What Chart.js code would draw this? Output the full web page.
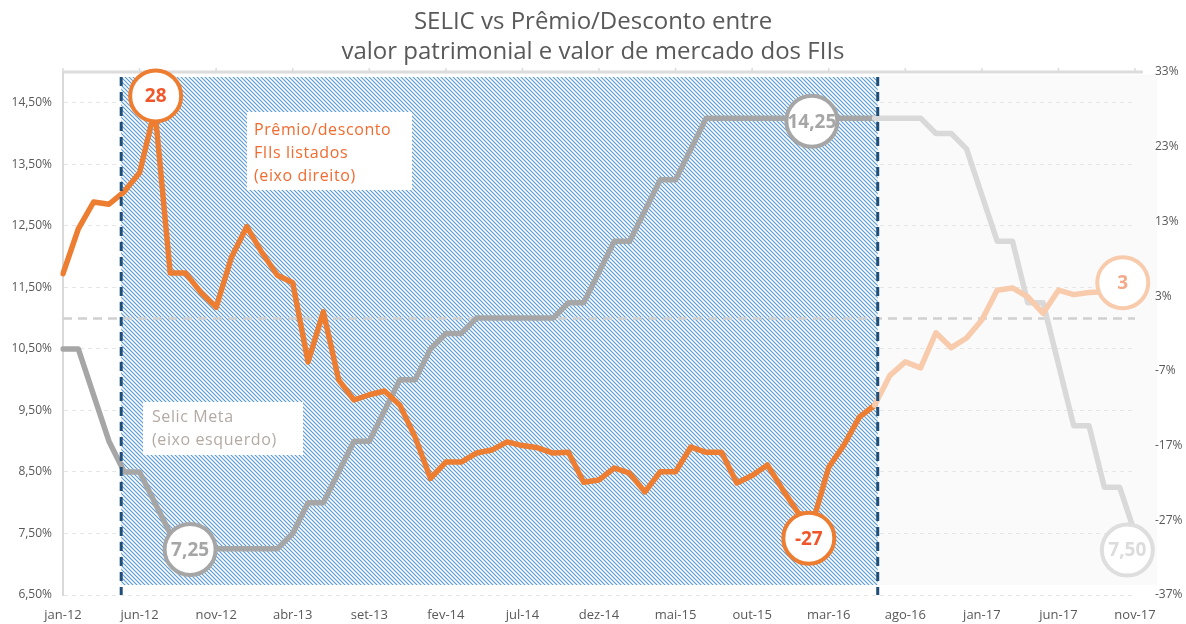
<!DOCTYPE html>
<html>
<head>
<meta charset="utf-8">
<script src="https://cdn.jsdelivr.net/npm/chart.js@4"></script>
<style>
  html, body { margin: 0; padding: 0; background: #fff; }
  #wrap { width: 1186px; height: 624px; }
</style>
</head>
<body>
<div id="wrap"><canvas id="fiiChart" width="1186" height="624"></canvas></div>
<script>
// Meses (categorias do eixo x)
const months = [
  "jan-12","fev-12","mar-12","abr-12","mai-12","jun-12","jul-12","ago-12","set-12","out-12","nov-12","dez-12",
  "jan-13","fev-13","mar-13","abr-13","mai-13","jun-13","jul-13","ago-13","set-13","out-13","nov-13","dez-13",
  "jan-14","fev-14","mar-14","abr-14","mai-14","jun-14","jul-14","ago-14","set-14","out-14","nov-14","dez-14",
  "jan-15","fev-15","mar-15","abr-15","mai-15","jun-15","jul-15","ago-15","set-15","out-15","nov-15","dez-15",
  "jan-16","fev-16","mar-16","abr-16","mai-16","jun-16","jul-16","ago-16","set-16","out-16","nov-16","dez-16",
  "jan-17","fev-17","mar-17","abr-17","mai-17","jun-17","jul-17","ago-17","set-17","out-17","nov-17"
];

// Selic meta (% a.a., eixo esquerdo)
const selic = [
  10.5, 10.5, 9.75, 9.0, 8.5, 8.5, 8.0, 7.5, 7.5, 7.25, 7.25, 7.25,
  7.25, 7.25, 7.25, 7.5, 8.0, 8.0, 8.5, 9.0, 9.0, 9.5, 10.0, 10.0,
  10.5, 10.75, 10.75, 11.0, 11.0, 11.0, 11.0, 11.0, 11.0, 11.25, 11.25, 11.75,
  12.25, 12.25, 12.75, 13.25, 13.25, 13.75, 14.25, 14.25, 14.25, 14.25, 14.25, 14.25,
  14.25, 14.25, 14.25, 14.25, 14.25, 14.25, 14.25, 14.25, 14.25, 14.0, 14.0, 13.75,
  13.0, 12.25, 12.25, 11.25, 11.25, 10.25, 9.25, 9.25, 8.25, 8.25, 7.5
];

// Prêmio/desconto dos FIIs listados (%, eixo direito)
const premio = [
  6, 12, 15.6, 15.3, 17, 19.5, 28, 6.1, 6.1, 3.5, 1.5, 8.2,
  12.3, 8.8, 5.8, 4.8, -5.8, 0.9, -8.2, -10.9, -10.2, -9.7, -11.6, -15.9,
  -21.4, -19.2, -19.2, -18, -17.6, -16.5, -17, -17.3, -18, -17.9, -21.9, -21.6,
  -20, -20.7, -23.2, -20.5, -20.5, -17.2, -17.9, -17.9, -22, -21, -19.6, -22.9,
  -26, -27, -19.9, -16.9, -13.2, -11.6, -7.6, -5.8, -6.6, -1.9, -3.9, -2.6,
  -0.2, 3.8, 4.1, 2.9, 0.7, 3.8, 3.2, 3.5, 3.6, 3, 3
];

// Ticks dos eixos
const leftTicks = [6.5, 7.5, 8.5, 9.5, 10.5, 11.5, 12.5, 13.5, 14.5];
const rightTicks = [-37, -27, -17, -7, 3, 13, 23, 33];

// Período destacado (índices fracionários dos meses) e início da parte esmaecida
const shadeFrom = 3.8;
const shadeTo = 53.2;
const fadeFrom = 53;

// Rótulos em círculo: texto, posição em dados (índice, valor, eixo)
const bubbles = [
  { text: "28", i: 6.05, v: 29.8, axis: "y1", kind: "orange" },
  { text: "-27", i: 48.7, v: -29.4, axis: "y1", kind: "orange" },
  { text: "3", i: 69.2, v: 4.8, axis: "y1", kind: "orangeFaded" },
  { text: "7,25", i: 8.3, v: 7.24, axis: "y", kind: "grey" },
  { text: "14,25", i: 48.9, v: 14.2, axis: "y", kind: "grey" },
  { text: "7,50", i: 69.5, v: 7.23, axis: "y", kind: "greyFaded" }
];

const ORANGE = "#ed7d31";
const ORANGE_FADED = "#f8cbad";
const GREY = "#a6a6a6";
const GREY_FADED = "#d9d9d9";
const FONT = "'Open Sans', Roboto, sans-serif";

function makeHatch(ctx) {
  const c = document.createElement("canvas");
  c.width = 4; c.height = 4;
  const g = c.getContext("2d");
  g.fillStyle = "#ffffff";
  g.fillRect(0, 0, 4, 4);
  g.strokeStyle = "#5b9bd5";
  g.lineWidth = 1.2;
  g.beginPath();
  g.moveTo(-1, -1); g.lineTo(5, 5);
  g.moveTo(-1, 3); g.lineTo(1, 5);
  g.moveTo(3, -1); g.lineTo(5, 1);
  g.stroke();
  return ctx.createPattern(c, "repeat");
}

const overlay = {
  id: "overlay",
  beforeDraw(chart) {
    const { ctx, chartArea: a, scales: { x } } = chart;
    ctx.save();
    ctx.fillStyle = "#ffffff";
    ctx.fillRect(0, 0, chart.width, chart.height);
    // área esmaecida à direita
    const xf = x.getPixelForValue(shadeTo);
    ctx.fillStyle = "#fafafa";
    ctx.fillRect(xf, a.top + 3, a.right + 22 - xf, a.bottom - a.top - 13);
    ctx.restore();
  },
  beforeDatasetsDraw(chart) {
    const { ctx, chartArea: a, scales: { x, y1 } } = chart;
    const x0 = x.getPixelForValue(shadeFrom);
    const x1 = x.getPixelForValue(shadeTo);
    ctx.save();
    ctx.fillStyle = makeHatch(ctx);
    ctx.fillRect(x0, a.top + 5, x1 - x0, a.bottom - a.top - 15);
    // linha tracejada do zero (eixo direito)
    const y0 = y1.getPixelForValue(0);
    ctx.strokeStyle = "#d0d0d0";
    ctx.lineWidth = 2.5;
    ctx.setLineDash([9, 6]);
    ctx.beginPath();
    ctx.moveTo(a.left, y0);
    ctx.lineTo(a.right, y0);
    ctx.stroke();
    // linha superior com marcas
    ctx.setLineDash([]);
    ctx.strokeStyle = "#dcdcdc";
    ctx.lineWidth = 3;
    ctx.beginPath();
    ctx.moveTo(a.left, a.top);
    ctx.lineTo(a.right + 8, a.top);
    ctx.stroke();
    ctx.lineWidth = 1.5;
    ctx.beginPath();
    for (let i = 0; i < months.length; i += 5) {
      const px = x.getPixelForValue(i);
      ctx.moveTo(px, a.top);
      ctx.lineTo(px, a.top - 4);
    }
    ctx.stroke();
    ctx.restore();
  },
  afterDatasetsDraw(chart) {
    const { ctx, chartArea: a, scales } = chart;
    const { x } = scales;
    ctx.save();
    // linhas verticais tracejadas
    ctx.strokeStyle = "#1f4e79";
    ctx.lineWidth = 3;
    ctx.setLineDash([9, 6]);
    [shadeFrom, shadeTo].forEach(v => {
      const px = x.getPixelForValue(v);
      ctx.beginPath();
      ctx.moveTo(px, a.top + 5);
      ctx.lineTo(px, a.bottom);
      ctx.stroke();
    });
    ctx.setLineDash([]);

    // caixas de legenda
    ctx.font = "16px " + FONT;
    ctx.letterSpacing = "0.6px";
    ctx.textBaseline = "middle";
    ctx.textAlign = "left";
    ctx.fillStyle = "#ffffff";
    ctx.fillRect(247, 112, 165, 78);
    ctx.fillStyle = "#f26b2f";
    ["Prêmio/desconto", "FIIs listados", "(eixo direito)"].forEach((t, k) => {
      ctx.fillText(t, 254, 130 + k * 23);
    });
    ctx.fillStyle = "#ffffff";
    ctx.fillRect(143, 402, 160, 53);
    ctx.fillStyle = "#b3aaa3";
    ["Selic Meta", "(eixo esquerdo)"].forEach((t, k) => {
      ctx.fillText(t, 152, 417 + k * 23);
    });

    // círculos com valores
    const styles = {
      orange: { stroke: ORANGE, text: "#f0562a" },
      orangeFaded: { stroke: ORANGE_FADED, text: "#f4a98a" },
      grey: { stroke: GREY, text: "#a6a6a6" },
      greyFaded: { stroke: "#dedede", text: "#dcdcdc" }
    };
    ctx.textAlign = "center";
    ctx.letterSpacing = "0px";
    ctx.font = "bold 19px " + FONT;
    bubbles.forEach(b => {
      const s = styles[b.kind];
      const cx = x.getPixelForValue(b.i);
      const cy = scales[b.axis].getPixelForValue(b.v);
      ctx.beginPath();
      ctx.arc(cx, cy, 25.5, 0, Math.PI * 2);
      ctx.fillStyle = "#ffffff";
      ctx.fill();
      ctx.lineWidth = 4;
      ctx.strokeStyle = s.stroke;
      ctx.stroke();
      ctx.fillStyle = s.text;
      ctx.fillText(b.text, cx, cy + 1);
    });
    ctx.restore();
  }
};

const ctx = document.getElementById("fiiChart").getContext("2d");

const fiiChart = new Chart(ctx, {
  type: "line",
  data: {
    labels: months,
    datasets: [
      {
        label: "Prêmio/desconto FIIs listados",
        data: premio,
        yAxisID: "y1",
        borderColor: ORANGE,
        borderWidth: 5.5,
        pointRadius: 0,
        tension: 0,
        borderJoinStyle: "round",
        borderCapStyle: "round",
        segment: {
          borderColor: c => (c.p0DataIndex >= fadeFrom ? ORANGE_FADED : ORANGE)
        }
      },
      {
        label: "Selic Meta",
        data: selic,
        yAxisID: "y",
        borderColor: GREY,
        borderWidth: 5.5,
        pointRadius: 0,
        tension: 0,
        borderJoinStyle: "round",
        borderCapStyle: "round",
        segment: {
          borderColor: c => (c.p0DataIndex >= fadeFrom ? GREY_FADED : GREY)
        }
      }
    ]
  },
  options: {
    responsive: false,
    animation: false,
    layout: { padding: 0 },
    plugins: {
      legend: { display: false },
      tooltip: { enabled: false },
      title: {
        display: true,
        text: ["SELIC vs Prêmio/Desconto entre", "valor patrimonial e valor de mercado dos FIIs"],
        color: "#595959",
        font: { family: FONT, size: 24, weight: "normal", lineHeight: 30 / 24 },
        padding: { top: 7, bottom: 5 }
      }
    },
    scales: {
      x: {
        offset: false,
        grid: { display: false },
        border: { display: false },
        ticks: {
          autoSkip: false,
          maxRotation: 0,
          padding: 4,
          color: "#595959",
          font: { family: FONT, size: 13 },
          callback: (v, i) => (i % 5 === 0 ? months[i] : "")
        },
        afterFit: s => { s.height = 29; }
      },
      y: {
        position: "left",
        min: 6.5,
        max: 15,
        afterBuildTicks: s => { s.ticks = leftTicks.map(v => ({ value: v })); },
        afterFit: s => { s.width = 63; },
        grid: { color: "#e6e6e6", drawTicks: false, lineWidth: 1 },
        border: { display: true, color: "#d9d9d9", width: 2, dash: [4, 4] },
        ticks: {
          padding: 11,
          color: "#595959",
          font: { family: FONT, size: 12 },
          callback: v => v.toFixed(2).replace(".", ",") + "%"
        }
      },
      y1: {
        position: "right",
        min: -37,
        max: 33,
        afterBuildTicks: s => { s.ticks = rightTicks.map(v => ({ value: v })); },
        afterFit: s => { s.width = 51; },
        grid: { drawOnChartArea: false, drawTicks: false },
        border: { display: false },
        ticks: {
          padding: 20,
          color: "#595959",
          font: { family: FONT, size: 12 },
          callback: v => v + "%"
        }
      }
    }
  },
  plugins: [overlay]
});
</script>
</body>
</html>
